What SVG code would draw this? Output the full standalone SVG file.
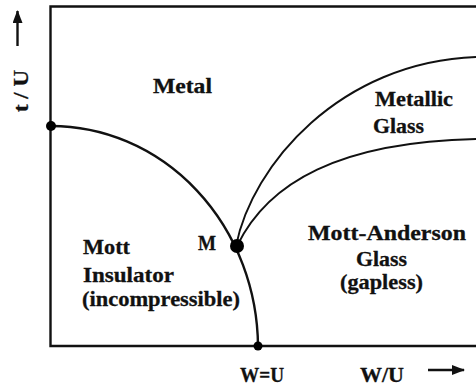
<svg xmlns="http://www.w3.org/2000/svg" width="476" height="387" viewBox="0 0 476 387">
<style>
.lbl{font-family:"Liberation Serif","Times New Roman",serif;font-weight:bold;font-size:21px;fill:#111;stroke:#111;stroke-width:0.3}
.ln{fill:none;stroke:#111;stroke-width:2.4}
.thin{fill:none;stroke:#111;stroke-width:1.9}
.dot{fill:#000}
</style>
<defs>
<marker id="ah" viewBox="0 0 13 10" refX="12" refY="5" markerWidth="13" markerHeight="10" markerUnits="userSpaceOnUse" orient="auto">
<path d="M0,0 L13,5 L0,10 Z" fill="#111"/>
</marker>
</defs>
<g id="axes">
<path class="ln" d="M476,6.5 H50.5 V346 H476"/>
</g>
<g id="connectors">
<path class="ln" d="M51,126 A207,222 0 0 1 258,346"/>
<path class="thin" d="M236,246 C252,165 340,62 476,57"/>
<path class="thin" d="M237,246 C268,182 340,142 476,139"/>
<path class="ln" d="M17.5,46 V11" marker-end="url(#ah)"/>
<path class="ln" d="M428,370 H464" marker-end="url(#ah)"/>
</g>
<g id="point-left"><circle class="dot" cx="51" cy="126" r="5"/></g>
<g id="point-M"><circle class="dot" cx="237" cy="246" r="7"/><text class="lbl" x="198" y="250" font-size="17" textLength="18" lengthAdjust="spacingAndGlyphs">M</text></g>
<g id="point-WU"><circle class="dot" cx="258" cy="346" r="4.5"/></g>
<g id="metal"><text class="lbl" x="153" y="93" textLength="59" lengthAdjust="spacingAndGlyphs">Metal</text></g>
<g id="metallic-glass">
<text class="lbl" x="375" y="106" textLength="78" lengthAdjust="spacingAndGlyphs">Metallic</text>
<text class="lbl" x="373" y="133" textLength="51" lengthAdjust="spacingAndGlyphs">Glass</text>
</g>
<g id="mott-insulator">
<text class="lbl" x="83" y="254" textLength="47" lengthAdjust="spacingAndGlyphs">Mott</text>
<text class="lbl" x="83" y="282" textLength="91" lengthAdjust="spacingAndGlyphs">Insulator</text>
<text class="lbl" x="82" y="306" textLength="158" lengthAdjust="spacingAndGlyphs">(incompressible)</text>
</g>
<g id="mott-anderson">
<text class="lbl" x="308" y="240" textLength="158" lengthAdjust="spacingAndGlyphs">Mott-Anderson</text>
<text class="lbl" x="356" y="266" textLength="51" lengthAdjust="spacingAndGlyphs">Glass</text>
<text class="lbl" x="340" y="289" textLength="83" lengthAdjust="spacingAndGlyphs">(gapless)</text>
</g>
<g id="x-labels">
<text class="lbl" x="240" y="382" font-size="19" textLength="44" lengthAdjust="spacingAndGlyphs">W=U</text>
<text class="lbl" x="360" y="382" textLength="44" lengthAdjust="spacingAndGlyphs">W/U</text>
</g>
<g id="y-label">
<text class="lbl" transform="translate(28,112) rotate(-90)" x="0" y="0" textLength="42" lengthAdjust="spacingAndGlyphs">t / U</text>
</g>
</svg>
